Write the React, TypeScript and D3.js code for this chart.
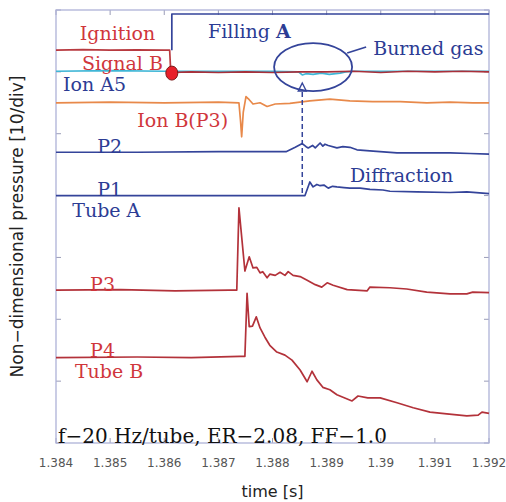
import React from 'react';
import * as d3 from 'd3';

type Pt = [number, number];

// time axis [s] and pressure divisions
const timeTicks = [1.384, 1.385, 1.386, 1.387, 1.388, 1.389, 1.39, 1.391, 1.392];
const timeTickLabels = ['1.384', '1.385', '1.386', '1.387', '1.388', '1.389', '1.39', '1.391', '1.392'];
const pressureTicks = [0, 10, 20, 30, 40, 50, 60, 70];

// traces: [time s, offset pressure in units of the 10/div grid]
const fillingA: Pt[] = [[1.38614, 63.5], [1.38614, 69.35], [1.392, 69.35]];

const ignition: Pt[] = [
  [1.384, 63.5], [1.3845, 63.6], [1.385, 63.5], [1.3855, 63.55], [1.386, 63.5], [1.3861, 63.5], [1.38612, 60.0],
];

const signalB: Pt[] = [
  [1.38614, 59.9], [1.3865, 60.0], [1.387, 59.9], [1.3875, 60.0], [1.388, 59.9], [1.3885, 60.0], [1.389, 60.0],
  [1.3895, 60.1], [1.39, 59.9], [1.3905, 60.1], [1.391, 60.0], [1.3915, 60.1], [1.392, 60.0],
];

const ionA5: Pt[] = [
  [1.384, 60.1], [1.385, 60.2], [1.386, 60.1], [1.387, 60.1], [1.388, 60.1], [1.38848, 60.0], [1.38855, 59.5],
  [1.38862, 59.7], [1.38875, 59.6], [1.3889, 59.8], [1.38905, 59.6], [1.38925, 59.8], [1.38935, 60.0],
  [1.3895, 60.1], [1.392, 60.1],
];

const ionB: Pt[] = [
  [1.384, 55.0], [1.385, 55.1], [1.386, 55.0], [1.387, 55.1], [1.38738, 55.0], [1.38741, 52.0], [1.38743, 49.5],
  [1.38746, 53.5], [1.38751, 56.0], [1.38757, 55.5], [1.38764, 54.8], [1.38777, 55.0], [1.3879, 54.4],
  [1.38805, 54.8], [1.38832, 54.9], [1.38869, 55.3], [1.38906, 55.6], [1.38943, 55.3], [1.38985, 55.2],
  [1.39036, 55.2], [1.39085, 55.0], [1.39128, 55.1], [1.3917, 55.0], [1.392, 55.0],
];

const p2: Pt[] = [
  [1.384, 47.0], [1.3855, 47.0], [1.387, 47.1], [1.38825, 47.1], [1.38842, 47.8], [1.38855, 48.4], [1.38862, 47.9],
  [1.38866, 47.7], [1.38874, 48.1], [1.38879, 47.7], [1.38888, 48.5], [1.38893, 48.0], [1.38897, 48.3],
  [1.38903, 48.1], [1.38919, 47.7], [1.3893, 47.9], [1.38943, 47.8], [1.38956, 47.4], [1.38986, 47.2],
  [1.3903, 46.9], [1.39067, 46.9], [1.39128, 46.9], [1.39165, 46.8], [1.392, 46.7],
];

const p1: Pt[] = [
  [1.384, 40.0], [1.386, 40.0], [1.388, 40.0], [1.3886, 40.0], [1.38869, 42.2], [1.38875, 41.4], [1.38882, 41.8],
  [1.38888, 41.6], [1.38895, 41.7], [1.38903, 41.2], [1.38911, 41.5], [1.38919, 41.4], [1.38932, 41.3],
  [1.38943, 41.2], [1.38962, 41.2], [1.3898, 41.0], [1.39004, 40.9], [1.39017, 40.7], [1.39067, 40.6],
  [1.39128, 40.5], [1.39159, 40.6], [1.392, 40.3],
];

const p3: Pt[] = [
  [1.384, 24.7], [1.3852, 24.8], [1.3862, 24.6], [1.3872, 24.7], [1.38734, 24.7], [1.38738, 38.0], [1.38749, 27.8],
  [1.38757, 30.1], [1.38764, 28.3], [1.38771, 28.4], [1.38777, 27.5], [1.38782, 27.7], [1.3879, 26.7],
  [1.38795, 27.3], [1.38805, 27.1], [1.38814, 27.6], [1.38823, 27.1], [1.38829, 27.7], [1.38838, 27.1],
  [1.38851, 26.9], [1.38864, 26.3], [1.38879, 25.6], [1.38891, 25.2], [1.38901, 25.9], [1.38912, 25.5],
  [1.38938, 24.8], [1.38975, 24.6], [1.3898, 25.2], [1.39017, 25.1], [1.39048, 24.9], [1.39085, 24.4],
  [1.39128, 24.1], [1.39159, 24.1], [1.3917, 24.4], [1.392, 24.3],
];

const p4: Pt[] = [
  [1.384, 13.8], [1.3855, 13.9], [1.3865, 13.8], [1.3874, 14.0], [1.38749, 14.0], [1.38753, 24.2], [1.38757, 18.8],
  [1.38763, 18.9], [1.3877, 20.4], [1.38777, 18.6], [1.38786, 17.1], [1.38795, 15.8], [1.38808, 14.7],
  [1.38823, 14.2], [1.38836, 13.4], [1.38851, 11.8], [1.38864, 9.9], [1.38873, 11.6], [1.38882, 10.2],
  [1.38893, 9.0], [1.38906, 8.6], [1.38919, 7.8], [1.38947, 6.8], [1.38958, 7.6], [1.38976, 7.3],
  [1.38999, 7.3], [1.3903, 6.5], [1.3906, 5.7], [1.39091, 5.0], [1.39122, 4.7], [1.39159, 4.4],
  [1.3918, 4.5], [1.39187, 5.0], [1.392, 4.8],
];

const RED_TEXT = '#d0363c';
const BLUE_TEXT = '#2c3c94';
const RED_TRACE = '#b3323a';
const BLUE_TRACE = '#34449a';
const ORANGE = '#e8894a';
const CYAN = '#3fb6d6';

const traces = [
  { name: 'Ion A5', data: ionA5, color: CYAN },
  { name: 'Ion B(P3)', data: ionB, color: ORANGE },
  { name: 'Signal B', data: signalB, color: '#a8303a' },
  { name: 'Ignition', data: ignition, color: '#b83a40' },
  { name: 'Filling A', data: fillingA, color: BLUE_TRACE },
  { name: 'P2', data: p2, color: BLUE_TRACE },
  { name: 'P1', data: p1, color: BLUE_TRACE },
  { name: 'P3', data: p3, color: RED_TRACE },
  { name: 'P4', data: p4, color: RED_TRACE },
];

// text labels anchored in data space
const labels: { text: string; bold?: string; t: number; v: number; color: string }[] = [
  { text: 'Ignition', t: 1.38444, v: 65.15, color: RED_TEXT },
  { text: 'Filling ', bold: 'A', t: 1.38681, v: 65.47, color: BLUE_TEXT },
  { text: 'Signal B', t: 1.38448, v: 60.3, color: RED_TEXT },
  { text: 'Ion A5', t: 1.38413, v: 56.91, color: BLUE_TEXT },
  { text: 'Ion B(P3)', t: 1.3855, v: 51.09, color: RED_TEXT },
  { text: 'P2', t: 1.38476, v: 46.88, color: BLUE_TEXT },
  { text: 'P1', t: 1.38476, v: 39.93, color: BLUE_TEXT },
  { text: 'Tube A', t: 1.3843, v: 36.54, color: BLUE_TEXT },
  { text: 'Diffraction', t: 1.38943, v: 42.19, color: BLUE_TEXT },
  { text: 'P3', t: 1.38463, v: 24.57, color: RED_TEXT },
  { text: 'P4', t: 1.38463, v: 13.9, color: RED_TEXT },
  { text: 'Tube B', t: 1.38435, v: 10.51, color: RED_TEXT },
  { text: 'Burned gas', t: 1.38986, v: 62.72, color: BLUE_TEXT },
];

const conditionText = 'f\u221220 Hz/tube, ER\u22122.08, FF\u22121.0';
const ignitionPoint: Pt = [1.38614, 59.8];
const burnedGasCenter: Pt = [1.38875, 60.78];
const burnedGasLeader: Pt[] = [[1.38938, 63.05], [1.38973, 64.02]];
const arrivalMarker: Pt[] = [[1.38855, 56.9], [1.38855, 40.0]];

const W = 506;
const H = 502;
const M = { left: 56, right: 17, top: 10, bottom: 59 };

export default function App() {
  const x = d3.scaleLinear().domain([1.384, 1.392]).range([M.left, W - M.right]);
  const y = d3.scaleLinear().domain([0, 70]).range([H - M.bottom, M.top]);
  const line = d3.line<Pt>().x((d) => x(d[0])).y((d) => y(d[1]));
  const serif = '"DejaVu Serif", serif';
  const sans = '"DejaVu Sans", sans-serif';
  const frame = '#aeb2d8';
  const x0 = x.range()[0];
  const x1 = x.range()[1];
  const yTop = y.range()[1];
  const yBot = y.range()[0];
  const tipY = y(arrivalMarker[0][1]);
  const ax = x(arrivalMarker[0][0]);

  return (
    <svg width={W} height={H} style={{ position: 'absolute', left: 0, top: 0, background: '#fff' }}>
      {/* time ticks on bottom and top edges */}
      {timeTicks.map((t) => (
        <g key={t}>
          <line x1={x(t)} x2={x(t)} y1={yBot} y2={yBot - 5} stroke="#9a9cb8" strokeWidth={1} />
          <line x1={x(t)} x2={x(t)} y1={yTop} y2={yTop + 5} stroke="#9a9cb8" strokeWidth={1} />
        </g>
      ))}
      {pressureTicks.map((v) => (
        <g key={v}>
          <line x1={x0} x2={x0 + 5} y1={y(v)} y2={y(v)} stroke="#9a9cb8" strokeWidth={1} />
          <line x1={x1} x2={x1 - 5} y1={y(v)} y2={y(v)} stroke="#9a9cb8" strokeWidth={1} />
        </g>
      ))}
      <rect x={x0} y={yTop} width={x1 - x0} height={yBot - yTop} fill="none" stroke={frame} strokeWidth={1.3} />

      {timeTicks.map((t, i) => (
        <text key={t} x={x(t)} y={467} textAnchor="middle" fontFamily={sans} fontSize={12} fill="#555">
          {timeTickLabels[i]}
        </text>
      ))}
      <text x={(x0 + x1) / 2} y={497} textAnchor="middle" fontFamily={sans} fontSize={16} fill="#222">
        time [s]
      </text>
      <text
        transform={`translate(23, ${(yTop + yBot) / 2}) rotate(-90)`}
        textAnchor="middle"
        fontFamily={sans}
        fontSize={17}
        fill="#222"
      >
        Non{'\u2212'}dimensional pressure [10/div]
      </text>

      {traces.map((s) => (
        <path key={s.name} d={line(s.data) ?? ''} fill="none" stroke={s.color} strokeWidth={1.7} strokeLinejoin="round" />
      ))}

      {/* flame arrival marker */}
      <line x1={ax} x2={ax} y1={tipY + 1} y2={y(arrivalMarker[1][1])} stroke={BLUE_TRACE} strokeWidth={1.5} strokeDasharray="5,3" />
      <path d={`M${ax},${tipY - 8} L${ax - 4},${tipY} L${ax + 4},${tipY} Z`} fill="#fff" stroke={BLUE_TRACE} strokeWidth={1.4} />

      {/* burned gas annotation */}
      <ellipse cx={x(burnedGasCenter[0])} cy={y(burnedGasCenter[1])} rx={39} ry={24} fill="none" stroke={BLUE_TRACE} strokeWidth={1.8} />
      <path d={line(burnedGasLeader) ?? ''} fill="none" stroke={BLUE_TRACE} strokeWidth={1.8} />

      <ellipse cx={x(ignitionPoint[0])} cy={y(ignitionPoint[1])} rx={6} ry={7} fill="#e8202a" stroke="#7a1a1a" strokeWidth={1} />

      {labels.map((l) => (
        <text key={l.text} x={x(l.t)} y={y(l.v)} fontFamily={serif} fontSize={19} fill={l.color}>
          {l.text}
          {l.bold ? <tspan fontWeight="bold">{l.bold}</tspan> : null}
        </text>
      ))}
      <text x={58} y={yBot} fontFamily={serif} fontSize={20} fill="#111">
        {conditionText}
      </text>
    </svg>
  );
}
